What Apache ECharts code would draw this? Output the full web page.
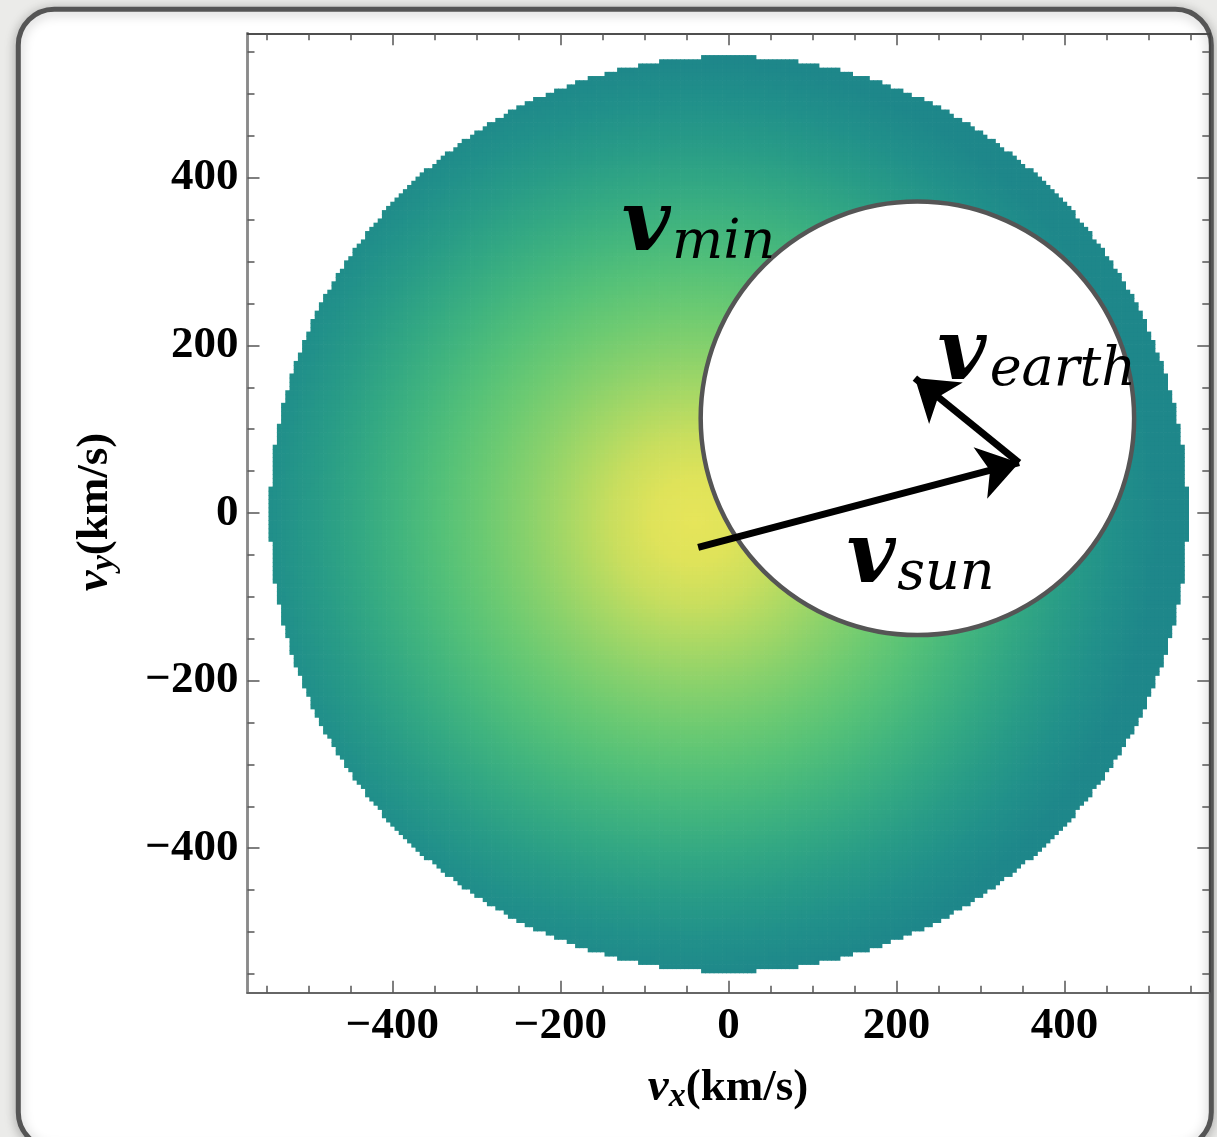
<!DOCTYPE html>
<html><head><meta charset="utf-8">
<script src="https://cdn.jsdelivr.net/npm/echarts@6/dist/echarts.min.js"></script>
<style>html,body{margin:0;padding:0;background:#ebebe9;}#c{width:1217px;height:1137px;}</style>
</head><body><div id="c"></div>
<script>
// ---- data ----
const axisRange = [-572.5, 572.5];
const majorTicks = [-400, -200, 0, 200, 400];
const minorTicks = [-550, -500, -450, -350, -300, -250, -150, -100, -50, 50, 100, 150, 250, 300, 350, 450, 500, 550];
const escapeDisc = [0, -1, 546];          // centre vx, vy, radius (km/s)
const peakVelocity = [-40, -8];            // brightest point of the distribution
const cellSize = [5];                      // km/s
const vminCircle = [225, 113, 258];        // centre vx, vy, radius
const sunArrow = [[-36, -41], [346, 60]];
const earthArrow = [[346, 60], [222, 161]];
const labelNames = ['min', 'earth', 'sun'];
const labelV = [[-98, 340], [278, 186], [170, -56]];
const labelSub = [[-67, 321], [311, 170], [201, -74]];
// speed from the peak (km/s) -> colour, read at 0,50,...,550
const speedColors = ['#e6e55a', '#dfe35a', '#c9de5e', '#a8d865', '#88d16c', '#6cca72', '#55c178', '#42b57e', '#33a883', '#289b87', '#21908a', '#1e878a'];

// ---- build cells ----
const cells = [];
(function () {
  const s = cellSize[0], cx = escapeDisc[0], cy = escapeDisc[1], R = escapeDisc[2];
  const n = Math.floor(R / s);
  for (let i = -n; i <= n; i++) {
    for (let j = -n; j <= n; j++) {
      const vx = cx + i * s, vy = cy + j * s;
      if (Math.hypot(vx - cx, vy - cy) > R) continue;
      if (Math.hypot(vx - vminCircle[0], vy - vminCircle[1]) < vminCircle[2] - 2 * s) continue;
      cells.push([vx, vy, Math.hypot(vx - peakVelocity[0], vy - peakVelocity[1])]);
    }
  }
})();

const serif = '"Liberation Serif", "Times New Roman", serif';
const fmt = v => (v < 0 ? '\u2212' + Math.abs(v) : String(v));

function xAxisDef(pos, ticks, len, labels, lineColor, lineWidth) {
  return {
    type: 'value', gridIndex: 0, position: pos, min: axisRange[0], max: axisRange[1],
    axisLine: { show: true, onZero: false, lineStyle: { color: lineColor, width: lineWidth } },
    axisTick: { show: true, inside: true, length: len, customValues: ticks, lineStyle: { color: '#555', width: 1.5 } },
    axisLabel: labels ? { show: true, customValues: majorTicks, formatter: fmt, fontFamily: serif, fontWeight: 'bold', fontSize: 45, color: '#000', margin: 11 } : { show: false },
    splitLine: { show: false }
  };
}
function yAxisDef(pos, ticks, len, labels, lineColor, lineWidth) {
  const a = xAxisDef(pos, ticks, len, labels, lineColor, lineWidth);
  if (labels) a.axisLabel.margin = 9;
  return a;
}

const chart = echarts.init(document.getElementById('c'), null, { renderer: 'canvas' });

const option = {
  backgroundColor: '#ebebe9',
  animation: false,
  grid: { left: 247.5, top: 33.3, width: 961.8, height: 959.4, containLabel: false },
  xAxis: [
    xAxisDef('bottom', majorTicks, 12, true, '#666', 2),
    xAxisDef('bottom', minorTicks, 7, false, '#666', 2),
    xAxisDef('top', majorTicks, 12, false, '#444', 1.5),
    xAxisDef('top', minorTicks, 7, false, '#444', 1.5)
  ],
  yAxis: [
    yAxisDef('left', majorTicks, 12, true, '#8a8a8a', 2.5),
    yAxisDef('left', minorTicks, 7, false, '#8a8a8a', 2.5),
    yAxisDef('right', majorTicks, 12, false, '#444', 1.5),
    yAxisDef('right', minorTicks, 7, false, '#444', 1.5)
  ],
  visualMap: {
    show: false, type: 'continuous', seriesIndex: 0, dimension: 2,
    min: 0, max: 550, inRange: { color: speedColors }
  },
  series: [
    {
      type: 'custom', name: 'density', xAxisIndex: 0, yAxisIndex: 0, silent: true,
      data: cells, progressive: 0,
      renderItem: function (params, api) {
        const s = cellSize[0];
        const p = api.coord([api.value(0) - s / 2, api.value(1) + s / 2]);
        const sz = api.size([s, s]);
        return { type: 'rect', shape: { x: p[0], y: p[1], width: sz[0] + 0.7, height: sz[1] + 0.7 }, style: { fill: api.visual('color') } };
      }
    },
    {
      type: 'custom', name: 'vmin', xAxisIndex: 0, yAxisIndex: 0, silent: true,
      data: [vminCircle], z: 3,
      renderItem: function (params, api) {
        const c = api.coord([api.value(0), api.value(1)]);
        const r = api.size([api.value(2), 0])[0];
        return { type: 'circle', shape: { cx: c[0], cy: c[1], r: r }, style: { fill: '#ffffff', stroke: '#555555', lineWidth: 4.5 } };
      }
    },
    {
      type: 'lines', coordinateSystem: 'cartesian2d', xAxisIndex: 0, yAxisIndex: 0, silent: true, z: 4,
      symbol: ['none', 'arrow'], symbolSize: [30, 40],
      lineStyle: { color: '#000', width: 7, opacity: 1 },
      data: [{ coords: sunArrow }, { coords: earthArrow }]
    }
  ]
};
chart.setOption(option);

// ---- graphics: frame, axis titles, annotations ----
const g = [];
g.push({ type: 'rect', z: -100, silent: true,
  shape: { x: 18.3, y: 9.3, width: 1193, height: 1139, r: 36 },
  style: { fill: '#ffffff', stroke: '#555555', lineWidth: 5, shadowBlur: 12, shadowColor: 'rgba(0,0,0,0.25)', shadowOffsetY: 2 } });
const titleRich = {
  v: { fontFamily: serif, fontStyle: 'italic', fontWeight: 'bold', fontSize: 47, lineHeight: 52 },
  s: { fontFamily: serif, fontStyle: 'italic', fontWeight: 'bold', fontSize: 34, lineHeight: 30, verticalAlign: 'bottom' },
  n: { fontFamily: serif, fontWeight: 'bold', fontSize: 45, lineHeight: 52 }
};
g.push({ type: 'text', z: 10, x: 728, y: 1088, style: { text: '{v|v}{s|x}{n|(km/s)}', rich: titleRich, align: 'center', verticalAlign: 'middle', fill: '#000' } });
g.push({ type: 'text', z: 10, x: 95, y: 512, rotation: Math.PI / 2, style: { text: '{v|v}{s|y}{n|(km/s)}', rich: titleRich, align: 'center', verticalAlign: 'middle', fill: '#000' } });
for (let i = 0; i < labelNames.length; i++) {
  const pv = chart.convertToPixel({ xAxisIndex: 0, yAxisIndex: 0 }, labelV[i]);
  const ps = chart.convertToPixel({ xAxisIndex: 0, yAxisIndex: 0 }, labelSub[i]);
  g.push({ type: 'text', z: 10, x: pv[0], y: pv[1], style: { text: 'v', fontFamily: '"DejaVu Serif", serif', fontStyle: 'italic', fontWeight: 'bold', fontSize: 84, fill: '#000', align: 'center', verticalAlign: 'middle' } });
  g.push({ type: 'text', z: 10, x: ps[0], y: ps[1], style: { text: labelNames[i], fontFamily: '"DejaVu Serif", serif', fontStyle: 'italic', fontSize: 54, fill: '#000', align: 'left', verticalAlign: 'middle' } });
}
chart.setOption({ graphic: g });
</script></body></html>
